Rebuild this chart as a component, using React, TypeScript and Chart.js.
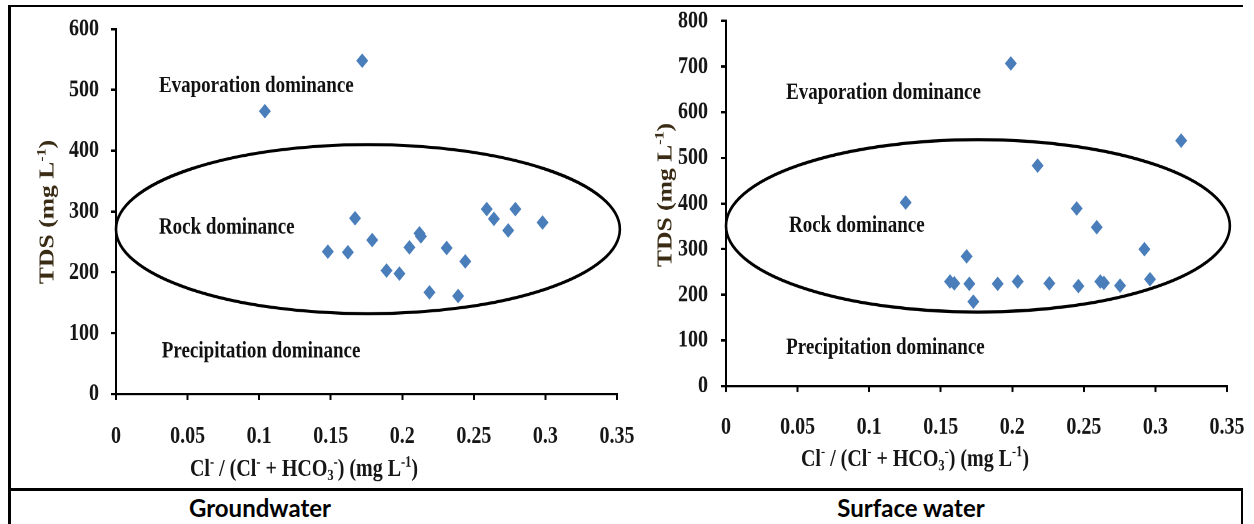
import React, { useEffect, useRef } from 'react';
import { Chart, registerables } from 'chart.js';

Chart.register(...registerables);

// ---------- data ----------
const xTickValues = [0, 0.05, 0.1, 0.15, 0.2, 0.25, 0.3, 0.35];
const xTickLabels = ['0', '0.05', '0.1', '0.15', '0.2', '0.25', '0.3', '0.35'];
const gwTickValues = [0, 100, 200, 300, 400, 500, 600];
const gwTickLabels = ['0', '100', '200', '300', '400', '500', '600'];
const swTickValues = [0, 100, 200, 300, 400, 500, 600, 700, 800];
const swTickLabels = ['0', '100', '200', '300', '400', '500', '600', '700', '800'];

// Groundwater: Cl/(Cl+HCO3) vs TDS
const gwX = [0.104, 0.172, 0.148, 0.162, 0.167, 0.179, 0.189, 0.198, 0.205, 0.212, 0.213, 0.219, 0.231, 0.239, 0.244, 0.259, 0.264, 0.274, 0.279, 0.298];
const gwY = [465, 548, 234, 233, 289, 253, 203, 198, 241, 264, 259, 167, 240, 161, 218, 304, 288, 269, 304, 282];

// Surface water
const swX = [0.1255, 0.199, 0.318, 0.2177, 0.245, 0.259, 0.2923, 0.1681, 0.1565, 0.1595, 0.170, 0.1728, 0.1898, 0.2038, 0.2259, 0.2462, 0.2615, 0.2640, 0.2753, 0.2962];
const swY = [402, 707, 538, 483, 389, 348, 300, 284, 229, 225, 224, 185, 224, 229, 225, 219, 229, 226, 220, 234];

const regionLabels = ['Evaporation dominance', 'Rock dominance', 'Precipitation dominance'];
const gwLabelX = [0.030, 0.030, 0.032];
const gwLabelY = [506, 273, 70];
const swLabelX = [0.042, 0.044, 0.042];
const swLabelY = [643, 351, 84];

// ellipse: centre x, centre y, radius x, radius y (data units)
const gwEllipse = [0.176, 271, 0.176, 139];
const swEllipse = [0.176, 351, 0.176, 189];

const panelTitles = ['Groundwater', 'Surface water'];

// rich-text segments: 0 normal, 1 superscript, 2 subscript
const xTitleSegs: [string, number][] = [['Cl', 0], ['-', 1], [' / (Cl', 0], ['-', 1], [' + HCO', 0], ['3', 2], ['-', 1], [') (mg L', 0], ['-1', 1], [')', 0]];
const yTitleSegs: [string, number][] = [['TDS (mg L', 0], ['-1', 1], [')', 0]];

// ---------- style ----------
const S = 1.22; // vertical stretch of the figure
const SERIF = '"Liberation Serif", "Times New Roman", serif';
const INK = '#161616';
const POINT = '#4A7EBB';

function drawRich(ctx: CanvasRenderingContext2D, segs: [string, number][], x: number, y: number, size: number, color: string) {
  const small = size * 0.62;
  const fontFor = (m: number) => `bold ${m === 0 ? size : small}px ${SERIF}`;
  let total = 0;
  for (const [t, m] of segs) {
    ctx.font = fontFor(m);
    total += ctx.measureText(t).width;
  }
  let cx = x - total / 2;
  const base = y + size * 0.32;
  ctx.fillStyle = color;
  ctx.textAlign = 'left';
  ctx.textBaseline = 'alphabetic';
  for (const [t, m] of segs) {
    ctx.font = fontFor(m);
    const dy = m === 1 ? -size * 0.38 : m === 2 ? size * 0.18 : 0;
    ctx.fillText(t, cx, base + dy);
    cx += ctx.measureText(t).width;
  }
}

type Panel = {
  left: number; width: number; height: number;
  areaLeft: number; areaRight: number; areaTop: number; areaBottom: number;
  xs: number[]; ys: number[]; yTicks: number[]; yLabels: string[]; yMax: number;
  ellipse: number[]; labelX: number[]; labelY: number[];
  yTitle: [number, number]; xTitle: [number, number]; yPad: number; xPad: number;
};

const panels: Panel[] = [
  {
    left: 10, width: 630, height: 400,
    areaLeft: 106, areaRight: 607, areaTop: 29 / S, areaBottom: 394 / S,
    xs: gwX, ys: gwY, yTicks: gwTickValues, yLabels: gwTickLabels, yMax: 600,
    ellipse: gwEllipse, labelX: gwLabelX, labelY: gwLabelY,
    yTitle: [37, 212 / S], xTitle: [294, 468 / S], yPad: 12, xPad: 18,
  },
  {
    left: 645, width: 609, height: 400,
    areaLeft: 81, areaRight: 582, areaTop: 21 / S, areaBottom: 386 / S,
    xs: swX, ys: swY, yTicks: swTickValues, yLabels: swTickLabels, yMax: 800,
    ellipse: swEllipse, labelX: swLabelX, labelY: swLabelY,
    yTitle: [20, 195 / S], xTitle: [270, 458 / S], yPad: 13, xPad: 17,
  },
];

function ChartPanel({ p }: { p: Panel }) {
  const ref = useRef<HTMLCanvasElement | null>(null);
  useEffect(() => {
    if (!ref.current) return;
    const tickFont = { family: SERIF, size: 20, weight: 'bold' as const };
    const overlay = {
      id: 'overlay',
      beforeDatasetsDraw(chart: any) {
        const ctx = chart.ctx as CanvasRenderingContext2D;
        const xs = chart.scales.x, ys = chart.scales.y;
        const e = p.ellipse;
        const cx = xs.getPixelForValue(e[0]);
        const cy = ys.getPixelForValue(e[1]);
        const rx = xs.getPixelForValue(e[0] + e[2]) - cx;
        const ry = cy - ys.getPixelForValue(e[1] + e[3]);
        ctx.save();
        ctx.beginPath();
        ctx.ellipse(cx, cy, rx, ry, 0, 0, Math.PI * 2);
        ctx.lineWidth = 2.6;
        ctx.strokeStyle = '#000';
        ctx.stroke();
        ctx.restore();
      },
      afterDraw(chart: any) {
        const ctx = chart.ctx as CanvasRenderingContext2D;
        const xs = chart.scales.x, ys = chart.scales.y;
        ctx.save();
        ctx.font = `bold 19px ${SERIF}`;
        ctx.fillStyle = '#111';
        ctx.textAlign = 'left';
        ctx.textBaseline = 'middle';
        regionLabels.forEach((t, i) => {
          ctx.fillText(t, xs.getPixelForValue(p.labelX[i]), ys.getPixelForValue(p.labelY[i]));
        });
        drawRich(ctx, xTitleSegs, p.xTitle[0], p.xTitle[1], 20, INK);
        ctx.translate(p.yTitle[0], p.yTitle[1]);
        ctx.rotate(-Math.PI / 2);
        drawRich(ctx, yTitleSegs, 0, 0, 21, '#3a2c14');
        ctx.restore();
      },
    };
    const chart = new Chart(ref.current, {
      type: 'scatter',
      data: {
        datasets: [{
          data: p.xs.map((x, i) => ({ x, y: p.ys[i] })),
          pointStyle: 'rectRot',
          pointRadius: 6,
          pointHoverRadius: 6,
          backgroundColor: POINT,
          borderColor: POINT,
          borderWidth: 0,
        }],
      },
      options: {
        responsive: false,
        animation: false,
        devicePixelRatio: 2,
        events: [],
        layout: { padding: { left: 0, top: p.areaTop, right: p.width - p.areaRight, bottom: 0 } },
        plugins: { legend: { display: false }, tooltip: { enabled: false } },
        scales: {
          x: {
            type: 'linear', min: 0, max: 0.35,
            afterBuildTicks: (s: any) => { s.ticks = xTickValues.map((v) => ({ value: v })); },
            afterFit: (s: any) => {
              s.height = p.height - p.areaBottom;
              s.paddingLeft = 0; s.paddingRight = 0; s.paddingTop = 0; s.paddingBottom = 0;
            },
            ticks: { callback: (_v: any, i: number) => xTickLabels[i], padding: p.xPad, font: tickFont, color: INK, maxRotation: 0, autoSkip: false },
            grid: { display: true, drawOnChartArea: false, drawTicks: true, tickLength: 5, tickColor: '#000', tickWidth: 2, color: '#000', lineWidth: 2 },
            border: { display: true, color: '#000', width: 2 },
          },
          y: {
            type: 'linear', min: 0, max: p.yMax,
            afterBuildTicks: (s: any) => { s.ticks = p.yTicks.map((v) => ({ value: v })); },
            afterFit: (s: any) => {
              s.width = p.areaLeft;
              s.paddingLeft = 0; s.paddingRight = 0; s.paddingTop = 0; s.paddingBottom = 0;
            },
            ticks: { callback: (_v: any, i: number) => p.yLabels[i], padding: p.yPad, font: tickFont, color: INK, autoSkip: false },
            grid: { display: true, drawOnChartArea: false, drawTicks: true, tickLength: 5, tickColor: '#000', tickWidth: 2, color: '#000', lineWidth: 2 },
            border: { display: true, color: '#000', width: 2 },
          },
        },
      } as any,
      plugins: [overlay],
    });
    return () => chart.destroy();
  }, [p]);
  return (
    <div style={{ position: 'absolute', left: p.left, top: 0, width: p.width, height: p.height, transform: `scaleY(${S})`, transformOrigin: '0 0' }}>
      <canvas ref={ref} width={p.width} height={p.height} style={{ display: 'block' }} />
    </div>
  );
}

const line = (l: number, t: number, w: number, h: number): React.CSSProperties => ({ position: 'absolute', left: l, top: t, width: w, height: h, background: '#000', zIndex: 2 });

export default function App() {
  return (
    <div style={{ position: 'fixed', left: 0, top: 0, width: 1254, height: 524, background: '#fff', overflow: 'hidden' }}>
      {panels.map((p, i) => <ChartPanel key={i} p={p} />)}
      <div style={line(8, 5, 1235, 2)} />
      <div style={line(8, 5, 3, 519)} />
      <div style={line(8, 488, 1235, 3)} />
      <div style={line(1241, 488, 2, 36)} />
      {panelTitles.map((t, i) => (
        <div key={t} style={{ position: 'absolute', left: i === 0 ? 160 : 811, top: 491, width: 200, height: 33, display: 'flex', alignItems: 'center', justifyContent: 'center', fontFamily: 'Lato, "Open Sans", sans-serif', fontWeight: 700, fontSize: 24, color: '#000', lineHeight: 1 }}>{t}</div>
      ))}
    </div>
  );
}
